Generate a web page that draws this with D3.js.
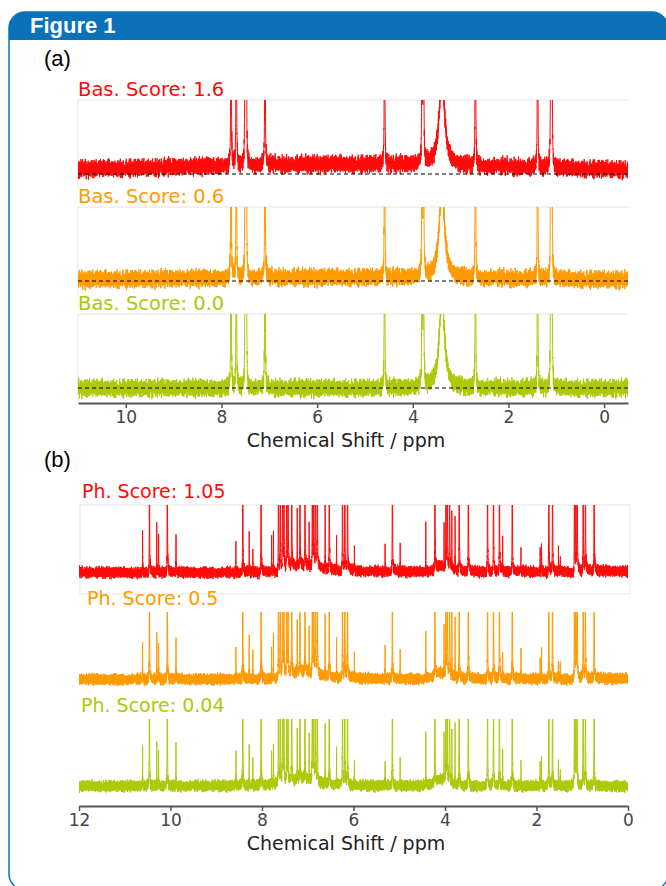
<!DOCTYPE html>
<html>
<head>
<meta charset="utf-8">
<script src="https://cdn.jsdelivr.net/npm/d3@7"></script>
<style>
  body { margin: 0; background: #fff; }
  svg { display: block; }
</style>
</head>
<body>
<svg id="fig" width="666" height="886"></svg>
<script>
'use strict';

// ---- panel (a): baseline scores ----
var basLabels = ["Bas. Score: 1.6", "Bas. Score: 0.6", "Bas. Score: 0.0"];
var basTicks = [10, 8, 6, 4, 2, 0];
var basPeakPpm    = [7.80, 7.69, 7.505, 7.48, 7.09, 4.59, 3.805, 3.775, 2.69, 1.39, 1.115, 1.09];
var basPeakHeight = [6, 6, 6, 6, 6, 6, 6, 6, 6, 6, 6, 6];
var basBroadPpm    = [3.39];
var basBroadHeight = [1.25];
var basBroadWidth  = [0.065];
var basOffset = [0.05, 0.015, 0];   // flat baseline shift per spectrum
var basHump   = [0.085, 0.035, 0];  // wide baseline hump per spectrum

// ---- panel (b): phase scores ----
var phLabels = ["Ph. Score: 1.05", "Ph. Score: 0.5", "Ph. Score: 0.04"];
var phTicks = [12, 10, 8, 6, 4, 2, 0];
var phPeakPpm = [10.61, 10.46, 10.30, 10.26, 10.07, 9.88,
  8.57, 8.42, 8.28, 8.20, 8.02, 7.79, 7.75, 7.64, 7.60, 7.55, 7.52, 7.46, 7.43, 7.35,
  7.23, 7.17, 7.06, 6.97, 6.90, 6.87, 6.83, 6.79, 6.62, 6.53, 6.37, 6.24, 6.19, 6.13, 5.98,
  5.31, 5.15, 4.98, 4.42, 4.22, 4.02, 3.98, 3.95, 3.90, 3.85, 3.78, 3.69, 3.49,
  3.07, 2.94, 2.81, 2.74, 2.53, 2.34, 1.92, 1.89, 1.73, 1.65, 1.52, 1.48,
  1.17, 1.14, 1.11, 0.98, 0.93, 0.74];
var phPeakHeight = [0.55, 6, 0.72, 0.57, 6, 0.6,
  0.5, 6, 0.65, 0.38, 6, 0.5, 0.65, 6, 6, 6, 6, 6, 6, 6,
  0.78, 6, 6, 0.68, 6, 6, 6, 6, 0.93, 6, 0.53, 6, 6, 6, 0.33,
  0.41, 6, 0.4, 0.77, 6, 0.74, 6, 6, 6, 0.9, 0.87, 6, 6,
  6, 6, 6, 0.47, 6, 0.4, 0.35, 0.46, 6, 6, 0.3, 0.25,
  6, 6, 6, 6, 6, 6];
var phBroadPpm    = [7.1, 4.1];
var phBroadHeight = [0.1, 0.1];
var phBroadWidth  = [0.35, 0.12];
var phPhase = [0.06, 0.03, 0.0];   // zero-order phase error, radians

var colors = ["#ff0a0a", "#ff9a00", "#aec80a"];

// hand-typed noise tables (combined with different strides)
var noiseA = [0.12, -0.45, 0.78, -0.23, 0.05, -0.91, 0.34, 0.56, -0.12, -0.67, 0.88, -0.04, 0.21, -0.38, 0.63,
  -0.79, 0.15, 0.42, -0.55, 0.09, -0.27, 0.71, -0.86, 0.33, -0.02, 0.49, -0.61, 0.18, 0.95, -0.44, 0.07,
  -0.19, 0.52, -0.73, 0.26, -0.08, 0.66, -0.35, 0.11, -0.97, 0.41, 0.03, -0.29, 0.84, -0.58, 0.24, -0.13,
  0.59, -0.48, 0.36, -0.76, 0.14, 0.69, -0.31, -0.06, 0.47, -0.82, 0.29, 0.01, -0.53, 0.75];
var noiseB = [-0.33, 0.61, -0.08, 0.27, -0.74, 0.45, 0.02, -0.56, 0.89, -0.17, 0.38, -0.92, 0.13, 0.54, -0.41,
  0.06, -0.68, 0.81, -0.25, 0.31, -0.03, 0.72, -0.49, 0.19, -0.87, 0.43, 0.08, -0.36, 0.65, -0.14, 0.25,
  -0.6, 0.93, -0.22, 0.04, -0.47, 0.58, -0.7, 0.16, 0.37, -0.11, 0.84, -0.52, 0.28, -0.05, -0.79, 0.62,
  -0.3, 0.1, 0.46, -0.64, 0.2, -0.9];

var svg = d3.select("#fig");
var blue = "#0b71b9";

// frame + header band
svg.append("rect")
    .attr("x", 9).attr("y", 12).attr("width", 659).attr("height", 878)
    .attr("rx", 16).attr("fill", "#fff").attr("stroke", blue).attr("stroke-width", 1.5);
svg.append("path")
    .attr("d", "M9,40 L9,28 A16,16 0 0 1 25,12 L652,12 A16,16 0 0 1 668,28 L668,40 Z")
    .attr("fill", blue);
svg.append("text")
    .attr("x", 30).attr("y", 33)
    .attr("fill", "#fff")
    .style("font", "bold 22px 'Liberation Sans', Arial, sans-serif")
    .text("Figure 1");

svg.append("text").attr("x", 44).attr("y", 66)
    .style("font", "22px 'Liberation Sans', Arial, sans-serif").text("(a)");
svg.append("text").attr("x", 44).attr("y", 467)
    .style("font", "22px 'Liberation Sans', Arial, sans-serif").text("(b)");

function noise(i, seed) {
  return 0.6 * noiseA[(i * 7 + seed) % noiseA.length] + 0.4 * noiseB[(i * 3 + seed * 5) % noiseB.length];
}

function buildSpectrum(domain, step, w, peakPpm, peakH, broadPpm, broadH, broadW, phase, base, noiseAmp, seed) {
  var pts = [];
  var n = Math.round((domain[0] - domain[1]) / step);
  var cp = Math.cos(phase), sp = Math.sin(phase);
  for (var i = 0; i <= n; i++) {
    var p = domain[0] - i * step;
    var v = base(p) + noiseAmp * noise(i, seed);
    for (var k = 0; k < peakPpm.length; k++) {
      var dx = p - peakPpm[k];
      var den = dx * dx + w * w;
      v += peakH[k] * (cp * w * w / den - sp * w * dx / den);
    }
    for (var b = 0; b < broadPpm.length; b++) {
      var bx = p - broadPpm[b], bw = broadW[b];
      v += broadH[b] * bw * bw / (bx * bx + bw * bw);
    }
    pts.push([p, v]);
  }
  return pts;
}

function drawAxis(g, x, y0, ticks) {
  var ax = g.append("g")
      .attr("transform", "translate(0," + y0 + ")")
      .call(d3.axisBottom(x).tickValues(ticks).tickSize(5).tickSizeOuter(0).tickPadding(3));
  ax.select(".domain").attr("stroke", "#555").attr("stroke-width", 2);
  ax.selectAll(".tick line").attr("stroke", "#555").attr("stroke-width", 1.5);
  ax.selectAll(".tick text")
      .attr("fill", "#444")
      .style("font", "17px 'DejaVu Sans', Verdana, sans-serif");
}

// ---------- panel (a) ----------
var xA = d3.scaleLinear().domain([11, -0.5]).range([78, 628]);
var aTops = [100, 207, 314];
var gA = svg.append("g");

aTops.forEach(function(top, s) {
  var y = d3.scaleLinear().domain([0, 1]).range([top + 74, top]);
  gA.append("line").attr("x1", 78).attr("x2", 628).attr("y1", top).attr("y2", top)
      .attr("stroke", "#e2e2e2");
  gA.append("line").attr("x1", 78).attr("x2", 78).attr("y1", top).attr("y2", top + 89)
      .attr("stroke", "#e2e2e2");
  gA.append("clipPath").attr("id", "clipA" + s)
    .append("rect").attr("x", 78).attr("width", 550).attr("y", top).attr("height", 100);
  var base = function(p) {
    return basOffset[s] + basHump[s] * Math.exp(-Math.pow((p - 5.5) / 4.5, 2));
  };
  var data = buildSpectrum(xA.domain(), 0.0015, 0.004, basPeakPpm, basPeakHeight,
      basBroadPpm, basBroadHeight, basBroadWidth, 0, base, 0.16, s * 17);
  var line = d3.line().x(function(d) { return xA(d[0]); }).y(function(d) { return y(d[1]); });
  gA.append("path")
      .datum(data)
      .attr("clip-path", "url(#clipA" + s + ")")
      .attr("fill", "none")
      .attr("stroke", colors[s])
      .attr("stroke-width", 1)
      .attr("d", line);
  gA.append("line").attr("x1", 78).attr("x2", 628).attr("y1", y(0)).attr("y2", y(0))
      .attr("stroke", "#000").attr("stroke-dasharray", "4,3").attr("stroke-width", 1);
  gA.append("text").attr("x", 78).attr("y", top - 4)
      .attr("fill", colors[s])
      .style("font", "19.5px 'DejaVu Sans', Verdana, sans-serif")
      .text(basLabels[s]);
});
drawAxis(gA, xA, 403, basTicks);
gA.append("text").attr("x", 346).attr("y", 447).attr("text-anchor", "middle")
    .attr("fill", "#222")
    .style("font", "19px 'DejaVu Sans', Verdana, sans-serif")
    .text("Chemical Shift / ppm");

// ---------- panel (b) ----------
var xB = d3.scaleLinear().domain([12, 0]).range([79, 628]);
var bTops = [505, 612, 719];
var bLabelX = [82, 87, 81];
var gB = svg.append("g");

bTops.forEach(function(top, s) {
  var y = d3.scaleLinear().domain([0, 1]).range([top + 67, top]);
  if (s === 0) {
    gB.append("rect").attr("x", 80).attr("y", top).attr("width", 550).attr("height", 89)
        .attr("fill", "none").attr("stroke", "#e6e6e6");
  }
  gB.append("clipPath").attr("id", "clipB" + s)
    .append("rect").attr("x", 79).attr("width", 549).attr("y", top).attr("height", 100);
  var base = function() { return 0; };
  var data = buildSpectrum(xB.domain(), 0.001, 0.002, phPeakPpm, phPeakHeight,
      phBroadPpm, phBroadHeight, phBroadWidth, phPhase[s], base, 0.11, s * 23 + 5);
  var line = d3.line().x(function(d) { return xB(d[0]); }).y(function(d) { return y(d[1]); });
  gB.append("path")
      .datum(data)
      .attr("clip-path", "url(#clipB" + s + ")")
      .attr("fill", "none")
      .attr("stroke", colors[s])
      .attr("stroke-width", 1)
      .attr("d", line);
  gB.append("text").attr("x", bLabelX[s]).attr("y", top - 7)
      .attr("fill", colors[s])
      .style("font", "19px 'DejaVu Sans', Verdana, sans-serif")
      .text(phLabels[s]);
});
drawAxis(gB, xB, 806, phTicks);
gB.append("text").attr("x", 346).attr("y", 850).attr("text-anchor", "middle")
    .attr("fill", "#222")
    .style("font", "19px 'DejaVu Sans', Verdana, sans-serif")
    .text("Chemical Shift / ppm");
</script>
</body>
</html>
